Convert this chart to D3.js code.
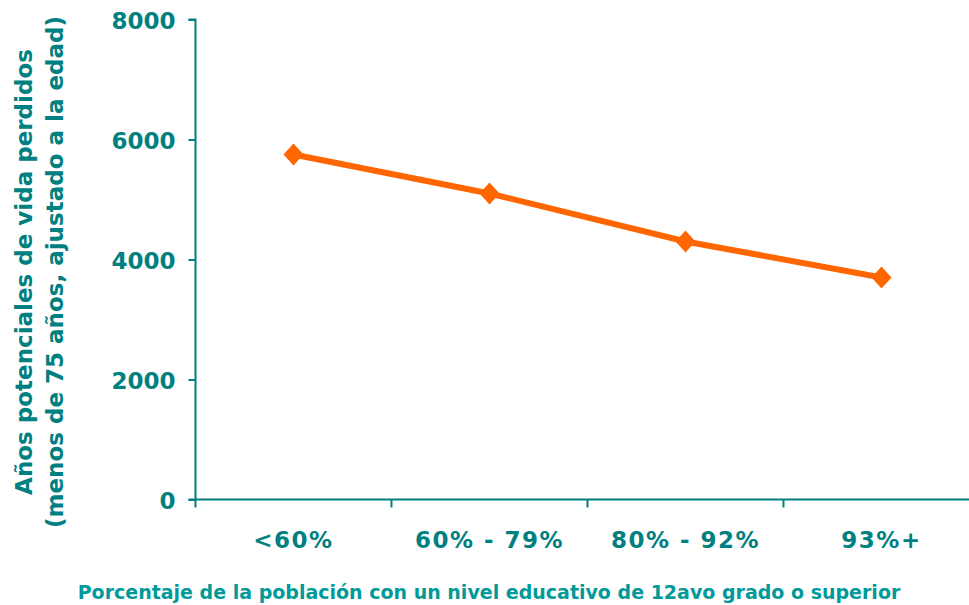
<!DOCTYPE html>
<html><head><meta charset="utf-8">
<script src="https://cdn.jsdelivr.net/npm/d3@7"></script>
<style>
body{margin:0;background:#fff;}
text{font-family:"DejaVu Sans",Verdana,sans-serif;font-weight:bold;}
</style></head>
<body><svg id="c" width="969" height="605"></svg>
<script>
const categories = ["<60%", "60% - 79%", "80% - 92%", "93%+"];
const values = [5750, 5100, 4300, 3700];
const yTicks = [0, 2000, 4000, 6000, 8000];
const yTitle = ["Años potenciales de vida perdidos", "(menos de 75 años, ajustado a la edad)"];
const xTitle = "Porcentaje de la población con un nivel educativo de 12avo grado o superior";

const teal = "#008080", orange = "#ff6600";
const svg = d3.select("#c");
const x0 = 195.5, y0 = 499.5;
const x = d3.scaleBand().domain(categories).range([x0, x0 + 196*4]);
const y = d3.scaleLinear().domain([0, 8000]).range([y0, 19.5]);

// y axis
const ya = svg.append("g").attr("transform", `translate(${x0},0)`)
  .call(d3.axisLeft(y).tickValues(yTicks).tickSize(7).tickPadding(13).tickFormat(d3.format("d")));
ya.select(".domain").attr("stroke", teal).attr("stroke-width", 2).attr("d", `M-7,${y(8000)}H0V${y0}`);
ya.selectAll(".tick line").attr("stroke", teal).attr("stroke-width", 2);
ya.selectAll(".tick text").attr("fill", teal).attr("font-size", 23).attr("dy", "0.38em")
  .attr("font-weight", "bold").attr("font-family", '"DejaVu Sans",sans-serif');

// x axis
const xa = svg.append("g").attr("transform", `translate(0,${y0})`)
  .call(d3.axisBottom(x).tickSize(0).tickPadding(32));
xa.select(".domain").attr("stroke", teal).attr("stroke-width", 2).attr("d", `M${x0-7},0H969`);
xa.selectAll(".tick text").attr("fill", teal).attr("font-size", 23).attr("letter-spacing", 1.5)
  .attr("font-weight", "bold").attr("font-family", '"DejaVu Sans",sans-serif');
// category boundary ticks
svg.append("g").selectAll("line").data(categories).join("line")
  .attr("x1", d => x(d)).attr("x2", d => x(d))
  .attr("y1", y0).attr("y2", y0 + 8)
  .attr("stroke", teal).attr("stroke-width", 2);

// line
const cx = d => x(d) + x.bandwidth()/2;
svg.append("path").datum(values)
  .attr("fill", "none").attr("stroke", orange).attr("stroke-width", 6)
  .attr("d", d3.line().x((d,i) => cx(categories[i])).y(d => y(d)));
svg.append("g").selectAll("path").data(values).join("path")
  .attr("transform", (d,i) => `translate(${cx(categories[i])},${y(d)})`)
  .attr("d", "M0,-11L10,0L0,11L-10,0Z").attr("fill", orange);

// titles
svg.append("text").attr("x", 489).attr("y", 599).attr("text-anchor", "middle")
  .attr("fill", "#009a9a").attr("font-size", 19).text(xTitle);
const yt = svg.append("text").attr("transform", "translate(0,272) rotate(-90)")
  .attr("text-anchor", "middle").attr("fill", teal).attr("font-size", 23);
yt.append("tspan").attr("x", 0).attr("y", 32).text(yTitle[0]);
yt.append("tspan").attr("x", 0).attr("y", 63).text(yTitle[1]);
</script></body></html>
